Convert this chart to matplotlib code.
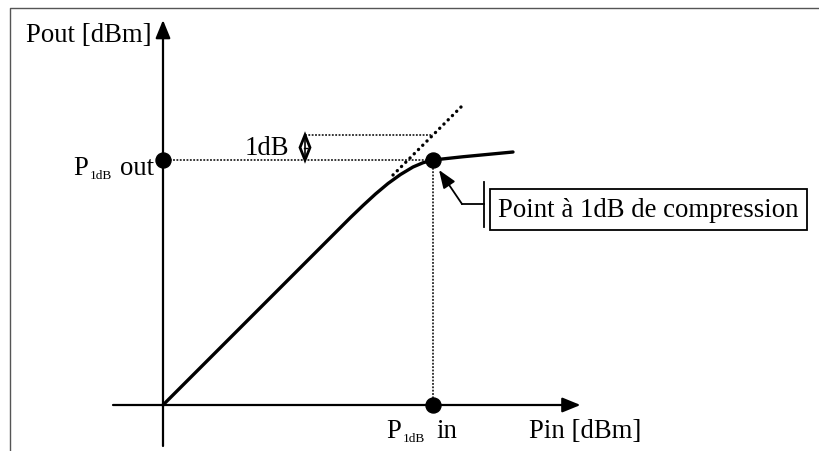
import matplotlib
matplotlib.use("Agg")
import matplotlib.pyplot as plt
from matplotlib.patches import Polygon

# Amplifier transfer characteristic (Pout vs Pin, dB units, unity small-signal gain)
pin_curve = [0.0, 7.5, 8.0, 8.5, 9.0, 9.5, 10.0, 10.4, 10.8, 12.0, 14.0]
pout_curve = [0.0, 7.5, 7.98, 8.44, 8.86, 9.22, 9.52, 9.69, 9.8, 9.93, 10.12]

# Ideal linear extension (dotted)
linear_pin = [9.2, 12.0]
linear_pout = [9.2, 12.0]

# 1 dB compression point
p1db_in = 10.8
p1db_out = 9.8
compression_db = 1.0
marker_pin = 5.68  # where the "1dB" gap is marked

# Axis extents
x_axis_range = [-2.0, 16.7]
y_axis_range = [-1.64, 15.4]

labels = {
    "ylabel": "Pout [dBm]",
    "xlabel": "Pin [dBm]",
    "gap": "1dB",
    "note": "Point à 1dB de compression",
}

SERIF = "Liberation Serif"
FS = 19.3
SUB = 9.5

# pixel geometry: origin at (163, 406), 25 px per dB
PX_PER_DB = 25.0
OX, OY = 163.0, 406.0
W, H = 819, 452


def X(px):
    return (px - OX) / PX_PER_DB


def Y(py):
    return (OY - py) / PX_PER_DB


fig = plt.figure(figsize=(W / 100, H / 100), dpi=100)
ax = fig.add_axes([0, 0, 1, 1])
ax.set_xlim(X(0), X(W))
ax.set_ylim(Y(H), Y(0))
ax.axis("off")

# outer frame (left and top edges)
ax.plot([X(9.5), X(9.5), X(W)], [Y(H), Y(8.5), Y(8.5)], color="#555555", lw=1.0,
        solid_capstyle="butt")

# axes with arrowheads
arrow_kw = dict(arrowstyle="-|>,head_length=1.1,head_width=0.45", lw=1.6,
                color="black", shrinkA=0, shrinkB=0)
ax.annotate("", xy=(x_axis_range[1], 0), xytext=(x_axis_range[0], 0),
            arrowprops=arrow_kw)
ax.annotate("", xy=(0, y_axis_range[1]), xytext=(0, y_axis_range[0]),
            arrowprops=arrow_kw)

# fine dotted guide lines
guide = dict(color="black", lw=1.1, linestyle=(0, (1.2, 1.0)))
ax.plot([0, p1db_in], [p1db_out, p1db_out], **guide)
ax.plot([marker_pin, p1db_in], [p1db_out + compression_db] * 2, **guide)
ax.plot([p1db_in, p1db_in], [0, p1db_out], **guide)

# ideal linear extension
ax.plot(linear_pin, linear_pout, color="black", lw=2.4,
        linestyle=(0, (0.05, 1.75)), dash_capstyle="round")

# measured characteristic
ax.plot(pin_curve, pout_curve, color="black", lw=2.4, solid_joinstyle="round",
        solid_capstyle="round")

# key points
ax.plot([0, p1db_in, p1db_in], [p1db_out, p1db_out, 0], "o", color="black",
        markersize=10.8, zorder=5)

# 1 dB gap marker: double-headed diamond spanning the compression gap
half_w = 5.0 / PX_PER_DB
lo, hi = p1db_out, p1db_out + compression_db
mid = (lo + hi) / 2
ax.add_patch(Polygon([(marker_pin, lo), (marker_pin + half_w, mid),
                      (marker_pin, hi), (marker_pin - half_w, mid)],
                     closed=True, fc="white", ec="black", lw=2.0,
                     joinstyle="miter", zorder=4))
ax.plot([marker_pin - 0.06, marker_pin + 0.06], [mid, mid], color="black",
        lw=1.0, zorder=5)
ax.plot([marker_pin, marker_pin], [lo, hi], color="black", lw=1.2, zorder=5)
ax.text(X(245), Y(155), labels["gap"], family=SERIF, fontsize=FS,
        ha="left", va="baseline")

# axis titles
ax.text(X(26), Y(42), labels["ylabel"], family=SERIF, fontsize=FS,
        ha="left", va="baseline")
ax.text(X(529), Y(438), labels["xlabel"], family=SERIF, fontsize=FS,
        ha="left", va="baseline")

# P1dB out label
ax.text(X(73), Y(175), "P", family=SERIF, fontsize=FS, ha="left", va="baseline")
ax.text(X(90), Y(179), "1dB", family=SERIF, fontsize=SUB, ha="left", va="baseline")
ax.text(X(120), Y(175), "out", family=SERIF, fontsize=FS, ha="left", va="baseline")

# P1dB in label
ax.text(X(386), Y(438), "P", family=SERIF, fontsize=FS, ha="left", va="baseline")
ax.text(X(403), Y(442), "1dB", family=SERIF, fontsize=SUB, ha="left", va="baseline")
ax.text(X(436), Y(438), "in", family=SERIF, fontsize=FS, ha="left", va="baseline")

# callout
ax.text(X(498), Y(217), labels["note"], family=SERIF, fontsize=FS,
        ha="left", va="baseline",
        bbox=dict(boxstyle="square,pad=0.3", fc="white", ec="black", lw=1.3))
ax.plot([X(484), X(484)], [Y(183), Y(228)], color="black", lw=1.3)
ax.plot([X(462), X(484)], [Y(205), Y(205)], color="black", lw=1.3)
ax.annotate("", xy=(X(439), Y(171)), xytext=(X(462), Y(205)),
            arrowprops=dict(arrowstyle="-|>,head_length=1.1,head_width=0.42",
                            lw=1.3, color="black", shrinkA=0, shrinkB=0))

fig.savefig("out.png", dpi=100)
